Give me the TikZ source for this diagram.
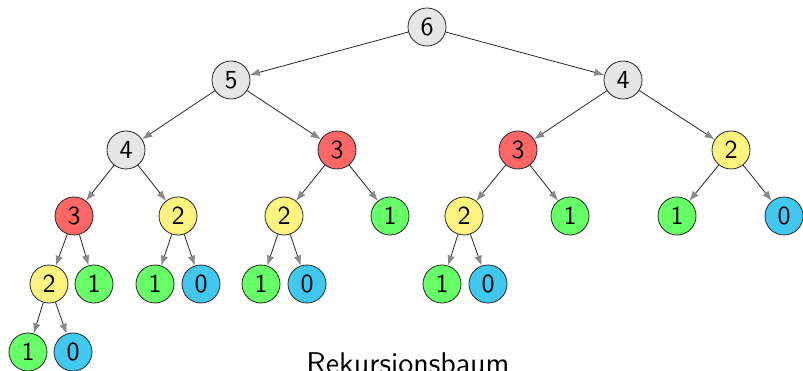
\documentclass[tikz,border=0pt]{standalone}
\usetikzlibrary{arrows.meta}
\renewcommand{\familydefault}{\sfdefault}
\definecolor{cgray}{HTML}{E6E6E6}
\definecolor{cred}{HTML}{FF6666}
\definecolor{cyel}{HTML}{FFF380}
\definecolor{cgreen}{HTML}{66FF66}
\definecolor{cblue}{HTML}{40C8F0}
\definecolor{tipgray}{HTML}{888888}
\newcommand{\bigtxt}[1]{\scalebox{2.6}{\fontsize{10}{12}\selectfont #1}}
\newcommand{\captxt}[1]{\scalebox{3.0}{\fontsize{10}{12}\selectfont #1}}
\begin{document}
\begin{tikzpicture}[x=1pt,y=-1pt,
  nd/.style={circle,draw=black!85,line width=0.8pt,minimum size=38pt,inner sep=0pt},
  g/.style={nd,fill=cgray}, r/.style={nd,fill=cred}, yl/.style={nd,fill=cyel},
  gr/.style={nd,fill=cgreen}, b/.style={nd,fill=cblue},
  ed/.style={line width=0.8pt,black!85,-{Latex[length=10pt,width=7.5pt,fill=tipgray,color=tipgray]}}]
\useasboundingbox (0,0) rectangle (803,371);
\node[g] (n6) at (427,27) {\bigtxt{6}};
\node[g] (n5) at (231,80) {\bigtxt{5}};
\node[g] (n4) at (623,80) {\bigtxt{4}};
\node[g] (a4) at (126,150) {\bigtxt{4}};
\node[r] (a3) at (337,150) {\bigtxt{3}};
\node[r] (b3) at (518,150) {\bigtxt{3}};
\node[yl] (b2) at (731,150) {\bigtxt{2}};
\node[r] (c3) at (74,216) {\bigtxt{3}};
\node[yl] (c2) at (178,216) {\bigtxt{2}};
\node[yl] (d2) at (284,216) {\bigtxt{2}};
\node[gr] (d1) at (390,216) {\bigtxt{1}};
\node[yl] (e2) at (464,216) {\bigtxt{2}};
\node[gr] (e1) at (570,216) {\bigtxt{1}};
\node[gr] (f1) at (677,216) {\bigtxt{1}};
\node[b] (f0) at (784,216) {\bigtxt{0}};
\node[yl] (g2) at (49,284) {\bigtxt{2}};
\node[gr] (g1) at (94,284) {\bigtxt{1}};
\node[gr] (h1) at (155,284) {\bigtxt{1}};
\node[b] (h0) at (201,284) {\bigtxt{0}};
\node[gr] (i1) at (261,284) {\bigtxt{1}};
\node[b] (i0) at (307,284) {\bigtxt{0}};
\node[gr] (j1) at (442,284) {\bigtxt{1}};
\node[b] (j0) at (488,284) {\bigtxt{0}};
\node[gr] (k1) at (28,352) {\bigtxt{1}};
\node[b] (k0) at (73,352) {\bigtxt{0}};
\node[anchor=base,inner sep=0pt] (cap) at (408,373) {\captxt{Rekursionsbaum}};
\foreach \p/\c in {n6/n5,n6/n4,n5/a4,n5/a3,n4/b3,n4/b2,a4/c3,a4/c2,a3/d2,a3/d1,b3/e2,b3/e1,b2/f1,b2/f0,c3/g2,c3/g1,c2/h1,c2/h0,d2/i1,d2/i0,e2/j1,e2/j0,g2/k1,g2/k0}
  \draw[ed] (\p) -- (\c);
\end{tikzpicture}
\end{document}
